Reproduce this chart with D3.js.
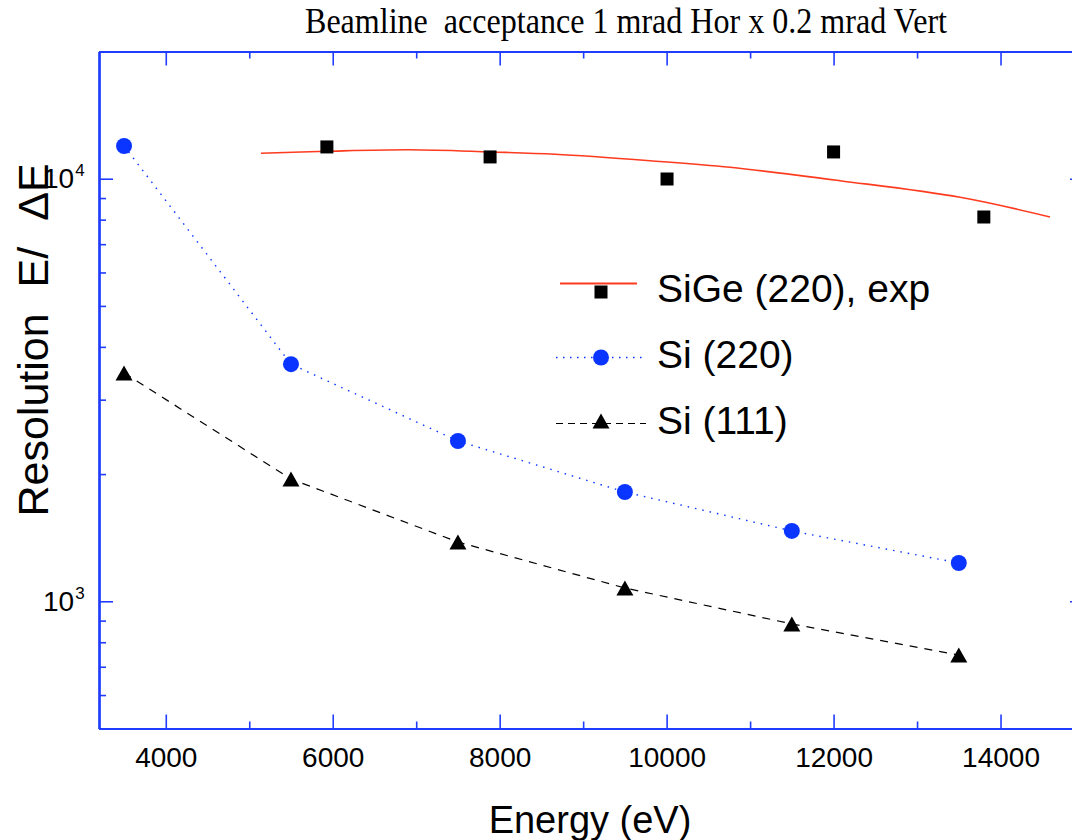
<!DOCTYPE html>
<html>
<head>
<meta charset="utf-8">
<script src="https://cdn.jsdelivr.net/npm/d3@7"></script>
<style>
  html, body { margin: 0; padding: 0; background: #fff; }
  svg { display: block; }
  text { font-family: "Liberation Sans", Arial, sans-serif; fill: #000; }
</style>
</head>
<body>
<svg id="chart" width="1072" height="840"></svg>
<script>
// Energy grid shared by the Si crystal series (eV)
const siEnergy = [3500, 5500, 7500, 9500, 11500, 13500];
// Resolving power E/dE for Si(220) and Si(111)
const si220 = [11950, 3640, 2395, 1814, 1467, 1232];
const si111 = [3470, 1947, 1381, 1075, 884, 746];

// Measured SiGe(220) points
const sigeEnergy = [5930, 7885, 10005, 12000, 13800];
const sigeRes = [11890, 11260, 9984, 11570, 8117];

// Fitted SiGe(220) curve, sampled along its length
const fitEnergy = [5140, 5932, 6926, 7884, 8663, 9801, 10760, 12077, 13515, 14593];
const fitRes = [11484, 11610, 11705, 11570, 11426, 11030, 10640, 9893, 9036, 8118];

// Axis ticks
const xMajor = [4000, 6000, 8000, 10000, 12000, 14000];
const xMinor = [5000, 7000, 9000, 11000, 13000, 15000];
const yMajor = [1000, 10000];
const yMinor = [500, 600, 700, 800, 900, 2000, 3000, 4000, 5000, 6000, 7000, 8000, 9000, 20000];

const legendNames = ["SiGe (220), exp", "Si (220)", "Si (111)"];

const axisColor = "#1f3cff";
const blue = "#0a34ff";
const red = "#ff3b1f";

const svg = d3.select("#chart");
const mLeft = 99, mRight = 1084, mTop = 51.5, mBottom = 728.5;

const x = d3.scaleLinear().domain([3200, 15000]).range([mLeft, mRight]);
const y = d3.scaleLog().domain([500, 20000]).range([mBottom, mTop]);

// Title
svg.append("text")
  .attr("x", 305).attr("y", 33)
  .attr("textLength", 642).attr("lengthAdjust", "spacingAndGlyphs")
  .style("white-space", "pre")
  .style("font-family", "'Liberation Serif', 'Times New Roman', serif")
  .style("font-size", "35px")
  .text("Beamline  acceptance 1 mrad Hor x 0.2 mrad Vert");

// Axes (ticks point inward)
function styleAxis(g) {
  g.selectAll("path.domain").attr("stroke", axisColor).attr("stroke-width", 2.2);
  g.selectAll(".tick line").attr("stroke", axisColor).attr("stroke-width", 1.6);
}
const gx = svg.append("g");

// bottom
gx.append("g").attr("transform", `translate(0,${mBottom})`)
  .call(d3.axisBottom(x).tickValues(xMinor).tickSizeInner(-7).tickSizeOuter(0).tickFormat(""))
  .call(styleAxis);
const xb = gx.append("g").attr("transform", `translate(0,${mBottom})`)
  .call(d3.axisBottom(x).tickValues(xMajor).tickSizeInner(-14).tickSizeOuter(0).tickPadding(19).tickFormat(d3.format("d")))
  .call(styleAxis);
xb.selectAll("text").style("font-size", "28px").style("font-family", "'Liberation Sans', Arial, sans-serif").attr("fill", "#000");

// top
gx.append("g").attr("transform", `translate(0,${mTop})`)
  .call(d3.axisTop(x).tickValues(xMinor).tickSizeInner(-7).tickSizeOuter(0).tickFormat(""))
  .call(styleAxis);
gx.append("g").attr("transform", `translate(0,${mTop})`)
  .call(d3.axisTop(x).tickValues(xMajor).tickSizeInner(-14).tickSizeOuter(0).tickFormat(""))
  .call(styleAxis);

// left
gx.append("g").attr("transform", `translate(${mLeft},0)`)
  .call(d3.axisLeft(y).tickValues(yMinor).tickSizeInner(-7).tickSizeOuter(0).tickFormat(""))
  .call(styleAxis);
gx.append("g").attr("transform", `translate(${mLeft},0)`)
  .call(d3.axisLeft(y).tickValues(yMajor).tickSizeInner(-14).tickSizeOuter(0).tickFormat(""))
  .call(styleAxis);

// right
gx.append("g").attr("transform", `translate(${mRight},0)`)
  .call(d3.axisRight(y).tickValues(yMinor).tickSizeInner(-7).tickSizeOuter(0).tickFormat(""))
  .call(styleAxis);
gx.append("g").attr("transform", `translate(${mRight},0)`)
  .call(d3.axisRight(y).tickValues(yMajor).tickSizeInner(-14).tickSizeOuter(0).tickFormat(""))
  .call(styleAxis);

// Decade labels with superscript exponents
const yl = svg.append("g").selectAll("text").data(yMajor).join("text")
  .attr("x", 43).attr("y", d => y(d) + 9.5)
  .style("font-size", "28px");
yl.append("tspan").text("10");
yl.append("tspan").attr("dy", -12).attr("dx", 1).style("font-size", "17px")
  .text(d => Math.round(Math.log10(d)));

// Axis titles
svg.append("text")
  .attr("x", 590).attr("y", 833)
  .attr("text-anchor", "middle")
  .style("font-size", "38px")
  .text("Energy (eV)");

svg.append("text")
  .attr("transform", "translate(48,340) rotate(-90)")
  .attr("text-anchor", "middle")
  .style("font-size", "43px")
  .style("word-spacing", "14px")
  .text("Resolution E/ \u0394E");

// Series
const plot = svg.append("g");
const line = d3.line().x(d => x(d[0])).y(d => y(d[1]));

plot.append("path")
  .datum(d3.zip(fitEnergy, fitRes))
  .attr("fill", "none").attr("stroke", red).attr("stroke-width", 1.6)
  .attr("d", line.curve(d3.curveCatmullRom.alpha(0.5)));

plot.append("path")
  .datum(d3.zip(siEnergy, si220))
  .attr("fill", "none").attr("stroke", blue).attr("stroke-width", 1.4)
  .attr("stroke-dasharray", "1.5,6")
  .attr("d", line.curve(d3.curveLinear));

plot.append("path")
  .datum(d3.zip(siEnergy, si111))
  .attr("fill", "none").attr("stroke", "#000").attr("stroke-width", 1.2)
  .attr("stroke-dasharray", "8,7")
  .attr("d", line.curve(d3.curveLinear));

const sq = 13;
plot.selectAll("rect.sige").data(d3.zip(sigeEnergy, sigeRes)).join("rect")
  .attr("class", "sige")
  .attr("x", d => x(d[0]) - sq / 2).attr("y", d => y(d[1]) - sq / 2)
  .attr("width", sq).attr("height", sq).attr("fill", "#000");

plot.selectAll("circle.si220").data(d3.zip(siEnergy, si220)).join("circle")
  .attr("class", "si220")
  .attr("cx", d => x(d[0])).attr("cy", d => y(d[1])).attr("r", 8).attr("fill", blue);

function tri(cx, cy) {
  const w = 17, h = 15;
  return `M${cx},${cy - h / 2}L${cx + w / 2},${cy + h / 2}L${cx - w / 2},${cy + h / 2}Z`;
}
plot.selectAll("path.si111").data(d3.zip(siEnergy, si111)).join("path")
  .attr("class", "si111")
  .attr("d", d => tri(x(d[0]), y(d[1]))).attr("fill", "#000");

// Legend
const lg = svg.append("g");
const rowBase = [302, 368, 434];
lg.selectAll("text").data(legendNames).join("text")
  .attr("x", 657).attr("y", (d, i) => rowBase[i])
  .style("font-size", "39px")
  .text(d => d);

lg.append("line").attr("x1", 560).attr("x2", 637).attr("y1", 283.5).attr("y2", 283.5)
  .attr("stroke", red).attr("stroke-width", 1.8);
lg.append("rect").attr("x", 601 - sq / 2).attr("y", 292 - sq / 2).attr("width", sq).attr("height", sq).attr("fill", "#000");

lg.append("line").attr("x1", 556).attr("x2", 644).attr("y1", 357.5).attr("y2", 357.5)
  .attr("stroke", blue).attr("stroke-width", 1.4).attr("stroke-dasharray", "1.5,5.5");
lg.append("circle").attr("cx", 601).attr("cy", 357.5).attr("r", 8).attr("fill", blue);

lg.append("line").attr("x1", 556).attr("x2", 646).attr("y1", 423.5).attr("y2", 423.5)
  .attr("stroke", "#000").attr("stroke-width", 1.2).attr("stroke-dasharray", "7,5");
lg.append("path").attr("d", tri(601, 421)).attr("fill", "#000");
</script>
</body>
</html>
